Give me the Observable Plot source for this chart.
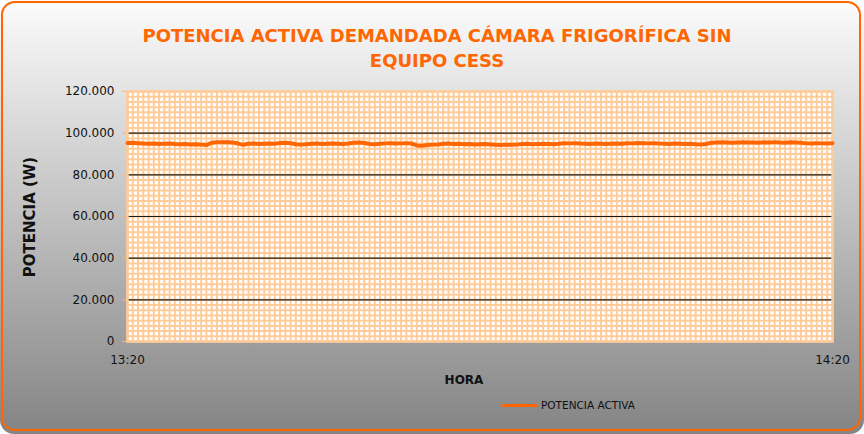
<!DOCTYPE html>
<html>
<head>
<meta charset="utf-8">
<script src="https://cdn.jsdelivr.net/npm/d3@7"></script>
<script src="https://cdn.jsdelivr.net/npm/@observablehq/plot@0.6"></script>
<style>
  html, body { margin: 0; padding: 0; background: #ffffff; }
  #wrap { position: relative; width: 864px; height: 434px; overflow: hidden;
          background: linear-gradient(#fcfcfc, #848484); border-radius: 14px; }
  #border { position: absolute; left: 1px; top: 1px; width: 860px; height: 430px; box-sizing: border-box;
            border: 2px solid #ff6600; border-radius: 14px; pointer-events: none; }
  #chart { position: absolute; left: 0; top: 0; }
  .title { position: absolute; left: 0; width: 874px; text-align: center; color: #ff6600;
           font: bold 18px "DejaVu Sans", sans-serif; }
  .ylab { position: absolute; left: 30px; top: 217px; transform: translate(-50%, -50%) rotate(-90deg);
          font: bold 15px "DejaVu Sans", sans-serif; color: #111; white-space: nowrap; }
  .xlab { position: absolute; left: 464px; top: 380px; transform: translate(-50%, -50%);
          font: bold 12px "DejaVu Sans", sans-serif; color: #111; }
  .leg { position: absolute; left: 502px; top: 398px; height: 14px; display: flex; align-items: center;
         font: 10.5px "DejaVu Sans", sans-serif; color: #111; }
  .leg .sw { width: 36px; height: 3px; background: #ff6600; margin-right: 3px; }
</style>
</head>
<body>
<div id="wrap">
  <div class="title" style="top:25px">POTENCIA ACTIVA DEMANDADA CÁMARA FRIGORÍFICA SIN</div>
  <div class="title" style="top:50px">EQUIPO CESS</div>
  <div id="chart"></div>
  <div class="ylab">POTENCIA (W)</div>
  <div class="xlab">HORA</div>
  <div class="leg"><div class="sw"></div><span>POTENCIA ACTIVA</span></div>
  <div id="border"></div>
</div>
<script>
// Data: active power (W) per sample, 13:20 to 14:20
const potencia = [
  95300, 95400, 95200,
  95000, 94900, 95000, 94800, 94900, 95000,
  94800, 94700, 94800,
  94600, 94700, 94500, 94300,
  95400, 95600, 95700, 95600, 95500,
  95000, 94400,
  94900, 95000, 94800, 94900, 95000, 94900,
  95300, 95400, 95200,
  94700, 94500, 94700,
  94900, 95000, 94800, 94900, 95000, 94900, 94800, 95000,
  95400, 95500, 95300,
  94800, 94700, 94900,
  95100, 95200, 95000, 95100, 95200, 95000,
  94100, 94000, 94300,
  94500, 94600,
  94900, 95000, 94800, 94900,
  94700, 94800, 94600, 94700, 94800, 94600,
  94400, 94300, 94500, 94400, 94500,
  94800, 94900, 94700, 94800, 94900, 94800, 94700, 94900,
  95200, 95100, 95200, 95000,
  94900, 94800, 95000, 94900, 94800, 94900, 95000, 94900,
  95200, 95100, 95300, 95200, 95100, 95200, 95000,
  94900, 94800, 95000, 94900, 94800, 94900,
  94700, 94600, 94800,
  95400, 95500, 95600, 95500, 95400, 95500, 95600, 95500,
  95500, 95400, 95600, 95500, 95700, 95500, 95400, 95600, 95500, 95400,
  95100, 95000, 95200, 95100, 95000, 95200
];
const horaLabels = ["13:20", "14:20"];
const yTicks = [0, 20000, 40000, 60000, 80000, 100000, 120000];
const majorLines = [20000, 40000, 60000, 80000, 100000];
const minorStepY = 2500;
const yMax = 120000;

const rows = potencia.map((v, i) => ({i, v}));
const n = potencia.length;
const xIdx = d3.range(n);
const yMinor = d3.range(0, yMax + 1, minorStepY);
const fmt = v => v === 0 ? "0" : (v / 1000).toFixed(3);

const chart = Plot.plot({
  width: 864,
  height: 434,
  marginLeft: 127,
  marginRight: 32,
  marginTop: 91,
  marginBottom: 93,
  style: {background: "transparent", fontFamily: "DejaVu Sans, sans-serif", fontSize: "12px", color: "#111"},
  x: {domain: [0, n - 1], axis: null, label: null},
  y: {domain: [0, yMax], axis: null, label: null},
  marks: [
    Plot.frame({fill: "#ffffff", stroke: null}),
    Plot.ruleX(xIdx, {stroke: "#ffcc99", strokeWidth: 2}),
    Plot.ruleY(yMinor, {stroke: "#ffcc99", strokeWidth: 2}),
    Plot.ruleY(majorLines, {stroke: "#1a1a1a", strokeWidth: 1.2}),
    Plot.frame({stroke: "#ffcc99", strokeWidth: 2.5}),
    Plot.axisY(yTicks, {tickFormat: fmt, tickSize: 5, stroke: "#f0b888", tickPadding: 8, fontSize: 12, fill: "#111", label: null}),
    Plot.axisX([0, n - 1], {tickFormat: (d, k) => horaLabels[k], tickSize: 0, tickPadding: 14, fontSize: 12, fill: "#111", label: null}),
    Plot.line(rows, {x: "i", y: "v", stroke: "#ff6600", strokeWidth: 4, strokeLinejoin: "round"})
  ]
});
document.getElementById("chart").appendChild(chart);
</script>
</body>
</html>
